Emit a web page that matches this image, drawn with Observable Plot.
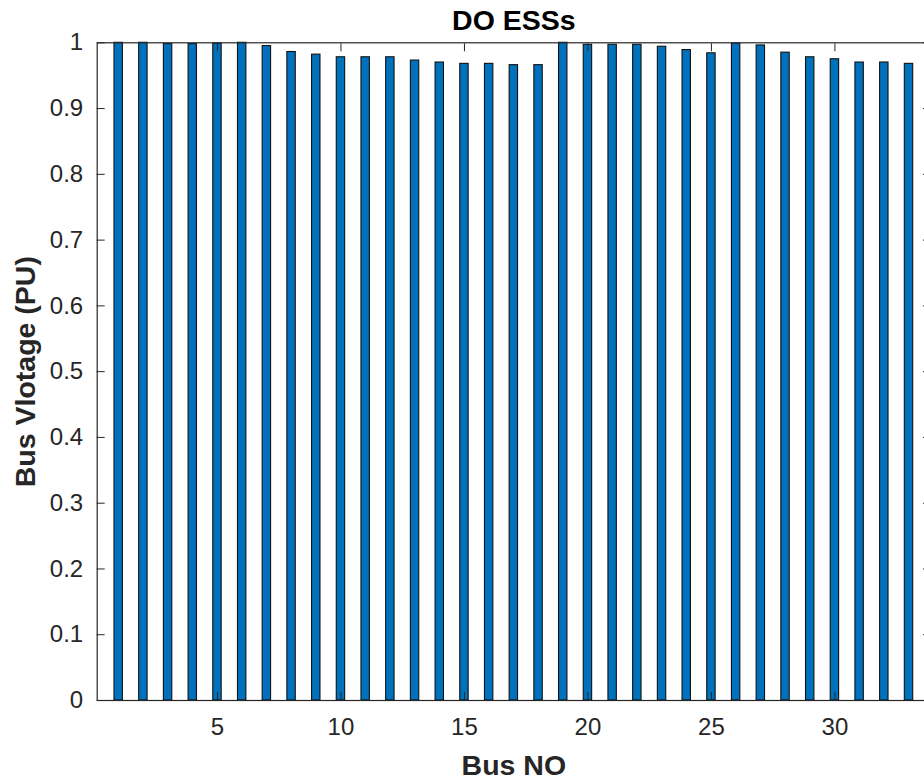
<!DOCTYPE html>
<html>
<head>
<meta charset="utf-8">
<script src="https://cdn.jsdelivr.net/npm/d3@7"></script>
<script src="https://cdn.jsdelivr.net/npm/@observablehq/plot@0.6"></script>
<style>
  html, body { margin: 0; padding: 0; overflow: hidden; background: #fff; }
  #chart { width: 924px; height: 780px; overflow: hidden; }
  #chart svg { max-width: none !important; }
</style>
</head>
<body>
<div id="chart"></div>
<script>
// Bus numbers and per-unit voltages
const buses = [1,2,3,4,5,6,7,8,9,10,11,12,13,14,15,16,17,18,19,20,21,22,23,24,25,26,27,28,29,30,31,32,33];
const voltages = [1.000, 1.000, 0.998, 0.998, 0.999, 1.000, 0.995, 0.986, 0.982, 0.978, 0.978, 0.978,
                  0.973, 0.970, 0.968, 0.968, 0.966, 0.966, 1.000, 0.997, 0.997, 0.997, 0.994, 0.989,
                  0.984, 0.999, 0.996, 0.985, 0.978, 0.975, 0.970, 0.970, 0.968];
const xTicks = [5, 10, 15, 20, 25, 30];
const yTicks = [0, 0.1, 0.2, 0.3, 0.4, 0.5, 0.6, 0.7, 0.8, 0.9, 1];
const titleText = "DO ESSs";
const xLabel = "Bus NO";
const yLabel = "Bus Vlotage (PU)";

const data = buses.map((b, i) => ({bus: b, v: voltages[i]}));
const halfW = 0.17;
const axisColor = "#262626";
const tickFont = 24;
const labelFont = 28.5;

const chart = Plot.plot({
  width: 930,
  height: 780,
  marginLeft: 96.7,
  marginRight: 0,
  marginTop: 42.3,
  marginBottom: 80,
  style: {fontFamily: "'Liberation Sans', Arial, Helvetica, sans-serif", color: axisColor, background: "#fff"},
  x: {domain: [0.13, 33.87]},
  y: {domain: [0, 1]},
  marks: [
    Plot.rectY(data, {
      x1: d => d.bus - halfW,
      x2: d => d.bus + halfW,
      y1: 0,
      y2: "v",
      fill: "#0072BD",
      stroke: "#111",
      strokeWidth: 1.1
    }),
    Plot.frame({stroke: axisColor, strokeWidth: 1.2}),
    Plot.axisY(yTicks, {anchor: "left", tickSize: -8, tickPadding: 22, fontSize: tickFont, stroke: axisColor, fill: axisColor,
      tickFormat: d => String(+d.toFixed(1)), label: null}),
    Plot.axisY(yTicks, {anchor: "right", tickSize: -8, tickFormat: () => "", stroke: axisColor, label: null}),
    Plot.axisX(xTicks, {anchor: "bottom", tickSize: -8, tickPadding: 25, fontSize: tickFont, stroke: axisColor, fill: axisColor, label: null}),
    Plot.axisX(xTicks, {anchor: "top", tickSize: -8, tickFormat: () => "", stroke: axisColor, label: null}),
    Plot.text([titleText], {frameAnchor: "top", lineAnchor: "middle", dy: -22, fontSize: labelFont, fontWeight: "bold", fill: "#000"}),
    Plot.text([xLabel], {frameAnchor: "bottom", lineAnchor: "middle", dy: 65, fontSize: labelFont, fontWeight: "bold", fill: axisColor}),
    Plot.text([yLabel], {frameAnchor: "left", textAnchor: "middle", lineAnchor: "middle", dx: -71, rotate: -90, fontSize: labelFont, fontWeight: "bold", fill: axisColor})
  ]
});
chart.style.maxWidth = "none";
document.getElementById("chart").appendChild(chart);
</script>
</body>
</html>
